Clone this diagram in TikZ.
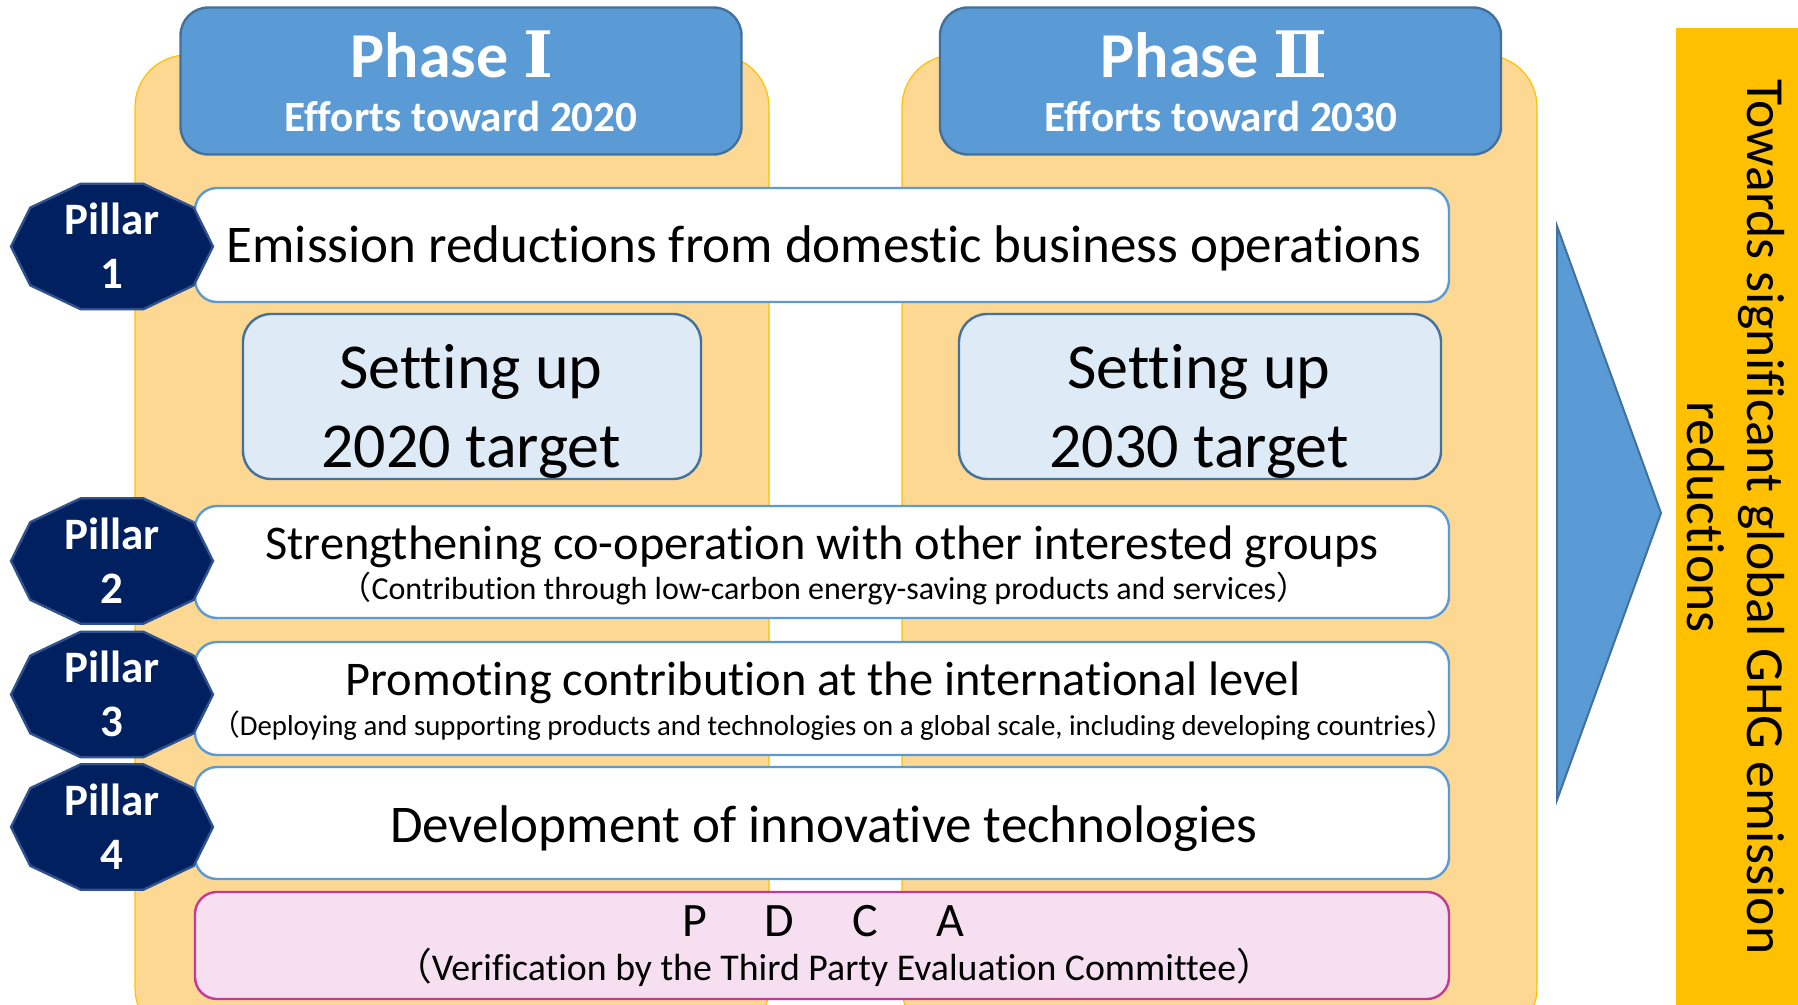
\documentclass[tikz,border=0pt]{standalone}
\usepackage{fontspec}
\setmainfont{Carlito}[Ligatures=NoCommon]
\newfontfamily\cjk{Noto Sans CJK JP}
\newfontfamily\numeralfont{DejaVu Serif}

\definecolor{phaseblue}{HTML}{5B9BD5}
\definecolor{phaseedge}{HTML}{41719C}
\definecolor{panelfill}{HTML}{FDD892}
\definecolor{paneledge}{HTML}{FFC000}
\definecolor{pillarfill}{HTML}{002060}
\definecolor{pillaredge}{HTML}{2F528F}
\definecolor{targetfill}{HTML}{DEEBF7}
\definecolor{pdcafill}{HTML}{F5DFF0}
\definecolor{pdcaedge}{HTML}{C23A98}
\definecolor{goldbar}{HTML}{FFC000}

\newcommand{\fsize}[2]{\fontsize{#1}{#2}\selectfont}

\tikzset{
	panel/.style={fill=panelfill, draw=paneledge, line width=0.6pt, rounded corners=26pt},
	phasebox/.style={fill=phaseblue, draw=phaseedge, line width=1.2pt, rounded corners=14pt,
		minimum width=280.5pt, minimum height=73.5pt, inner sep=0pt},
	rowbox/.style={fill=white, draw=phaseblue, line width=1.2pt, rounded corners=11pt,
		minimum width=627pt, inner sep=0pt},
	pdcabox/.style={rowbox, fill=pdcafill, draw=pdcaedge},
	targetbox/.style={fill=targetfill, draw=phaseedge, line width=1.2pt, rounded corners=14pt,
		minimum height=82.5pt, inner sep=0pt},
	pillarshape/.style={fill=pillarfill, draw=pillaredge, line width=1.2pt},
	arrowshape/.style={fill=phaseblue, draw=phaseedge, line width=1pt},
	txt/.style={anchor=base, inner sep=0pt, align=center},
	phasetitle/.style={txt, text=white, font=\bfseries\fsize{32}{40}},
	phasesub/.style={txt, text=white, font=\bfseries\fsize{21.6}{25}},
	pillartext/.style={txt, text=white, font=\bfseries\fsize{22.5}{27}},
	bigtext/.style={txt, font=\fsize{26.5}{32}},
	midtext/.style={txt, font=\fsize{24.2}{29}},
	targettext/.style={txt, font=\fsize{32}{39.5}},
}

\begin{document}
\begin{tikzpicture}[x=0.5pt, y=-0.5pt]
	\useasboundingbox (0,0) rectangle (1798,1005);
	\clip (0,0) rectangle (1798,1005);
	%
	\filldraw[panel] (135,55) rectangle (769,1040);
	\filldraw[panel] (902,55) rectangle (1537,1040);
	%
	\node[phasebox] (phase1) at (461,81) {};
	\node[phasebox] (phase2) at (1220.5,81) {};
	\node[phasetitle] (phase1title) at (452,78) {Phase {\numeralfont Ⅰ}};
	\node[phasesub] (phase1sub) at (461,132) {Efforts toward 2020};
	\node[phasetitle] (phase2title) at (1214,78) {Phase {\numeralfont Ⅱ}};
	\node[phasesub] (phase2sub) at (1221,132) {Efforts toward 2030};
	%
	\node[rowbox, minimum height=57pt] (row1) at (822,245) {};
	\node[rowbox, minimum height=56pt] (row2) at (822,562) {};
	\node[rowbox, minimum height=56.5pt] (row3) at (822,698.5) {};
	\node[rowbox, minimum height=56pt] (row4) at (822,823) {};
	\node[pdcabox, minimum height=53.5pt] (pdca) at (822,945.5) {};
	%
	\node[targetbox, minimum width=229pt] (target1) at (472,396.5) {};
	\node[targetbox, minimum width=241pt] (target2) at (1200,396.5) {};
	% base anchor of a two-line node sits on the last line
	\node[targettext] (target1text) at (471,467) {Setting up\\2020 target};
	\node[targettext] (target2text) at (1199,467) {Setting up\\2030 target};
	%
	\node[bigtext] (row1text) at (824,263) {Emission reductions from domestic business operations};
	\node[midtext] (row2text) at (822,559) {Strengthening co-operation with other interested groups};
	\node[txt, font=\fsize{16}{19}] (row2note) at (824,599)
		{{\cjk （}Contribution through low-carbon energy-saving products and services{\cjk ）}};
	\node[midtext] (row3text) at (823,695) {Promoting contribution at the international level};
	\node[txt, font=\fsize{14.4}{17}] (row3note) at (833,735)
		{{\cjk （}Deploying and supporting products and technologies on a global scale, including developing countries{\cjk ）}};
	\node[bigtext] (row4text) at (824,842) {Development of innovative technologies};
	\node[txt, font=\fsize{24}{29}] (pdcatext) at (823,936) {P\hspace{29pt}D\hspace{29pt}C\hspace{29pt}A};
	\node[txt, font=\fsize{18.9}{22}] (pdcanote) at (834,980)
		{{\cjk （}Verification by the Third Party Evaluation Committee{\cjk ）}};
	%
	\foreach \n/\y in {1/246.5, 2/561, 3/694.5, 4/827} {
		\filldraw[pillarshape] plot[samples at={0,36,...,324}] ({112+101*cos(\x)}, {\y+66*sin(\x)}) -- cycle;
		\node[pillartext] (pillar\n) at (112,\y+42) {Pillar\\\n};
	}
	%
	\filldraw[arrowshape] (1557,226) -- (1557,800) -- (1661,513) -- cycle;
	\fill[goldbar] (1676,28) rectangle (1800,1010);
	\node[rotate=-90, align=center, font=\fsize{26.8}{30}] (goal) at (1736,517)
		{Towards significant global GHG emission\\reductions};
\end{tikzpicture}
\end{document}
